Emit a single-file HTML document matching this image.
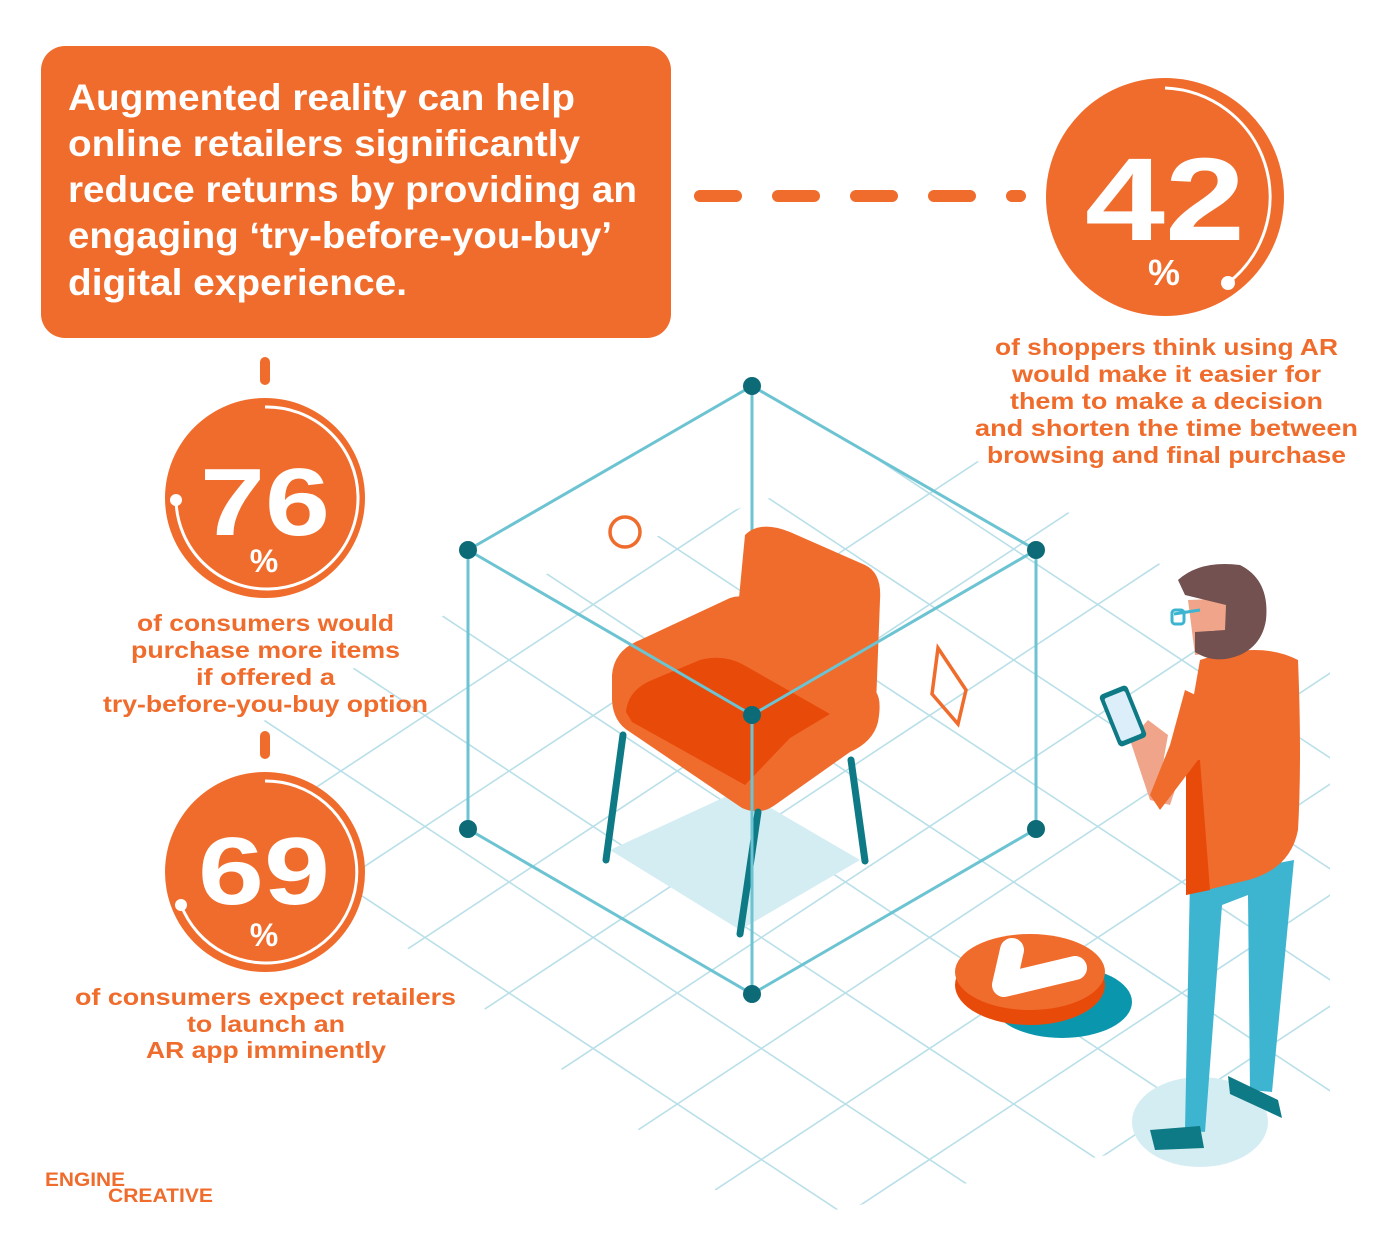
<!DOCTYPE html>
<html><head><meta charset="utf-8"><style>
html,body{margin:0;padding:0;background:#fff;width:1400px;height:1247px;overflow:hidden}
svg{display:block}
text{font-family:"Liberation Sans",Arial,sans-serif;font-weight:bold}
</style></head><body>
<svg width="1400" height="1247" viewBox="0 0 1400 1247" xmlns="http://www.w3.org/2000/svg">
<defs>
<clipPath id="g"><polygon points="940,440 1330,660 1330,1110 760,1225 180,770 470,600"/></clipPath>
</defs>
<g clip-path="url(#g)" fill="none" stroke="#b9dfe8" stroke-width="1.6">
<path d="M0 -453 L1400 471 M0 -342 L1400 582 M0 -231 L1400 693 M0 -120 L1400 804 M0 -9 L1400 915 M0 102 L1400 1026 M0 213 L1400 1137 M0 324 L1400 1248 M0 435 L1400 1359 M0 546 L1400 1470 M0 657 L1400 1581 M0 768 L1400 1692 M0 879 L1400 1803 M0 990 L1400 1914 M0 1101 L1400 2025 M0 1212 L1400 2136"/>
<path d="M0 441 L1400 -483 M0 552 L1400 -372 M0 663 L1400 -261 M0 774 L1400 -150 M0 885 L1400 -39 M0 996 L1400 72 M0 1107 L1400 183 M0 1218 L1400 294 M0 1329 L1400 405 M0 1440 L1400 516 M0 1551 L1400 627 M0 1662 L1400 738 M0 1773 L1400 849 M0 1884 L1400 960 M0 1995 L1400 1071 M0 2106 L1400 1182 M0 2217 L1400 1293"/>
</g>
<!-- cube -->
<polygon points="610,850 740,790 860,860 740,930" fill="#d3edf2"/>
<g stroke="#6cc3d2" stroke-width="3" fill="none">
<polyline points="468,550 752,386 1036,550 1036,829 752,994 468,829 468,550"/>
<line x1="752" y1="386" x2="752" y2="715"/>
</g>
<!-- chair -->
<path d="M745 535 Q760 520 790 532 L865 565 Q882 573 880 600 L876 705 L735 640 Z" fill="#f06c2c"/>
<path d="M612 675 Q614 650 640 640 L730 598 Q742 594 752 600 L876 692 Q882 700 878 722 Q873 742 850 752 L775 805 Q760 816 742 808 L630 732 Q613 722 612 700 Z" fill="#f06c2c"/>
<path d="M626 712 Q628 690 652 680 L700 660 Q722 654 742 664 L830 714 L790 738 L745 785 L632 722 Z" fill="#e84a0a"/>
<g stroke="#0d7a85" stroke-width="7" stroke-linecap="round">
<line x1="623" y1="735" x2="606" y2="860"/><line x1="758" y1="812" x2="740" y2="934"/><line x1="851" y1="760" x2="865" y2="861"/>
</g>
<g stroke="#6cc3d2" stroke-width="3"><line x1="752" y1="715" x2="752" y2="994"/><line x1="468" y1="550" x2="752" y2="715"/><line x1="1036" y1="550" x2="752" y2="715"/></g>
<g fill="#0d6b78">
<circle cx="752" cy="386" r="9"/><circle cx="468" cy="550" r="9"/><circle cx="1036" cy="550" r="9"/><circle cx="752" cy="715" r="9"/><circle cx="468" cy="829" r="9"/><circle cx="1036" cy="829" r="9"/><circle cx="752" cy="994" r="9"/>
</g>
<circle cx="625" cy="532" r="15" fill="none" stroke="#f06c2c" stroke-width="3.5"/>
<polygon points="938,648 966,690 958,724 932,694" fill="none" stroke="#f06c2c" stroke-width="3.5"/>
<!-- button -->
<ellipse cx="1062" cy="1002" rx="70" ry="36" fill="#0a97ad"/>
<ellipse cx="1030" cy="985" rx="75" ry="40" fill="#e84a0a"/>
<ellipse cx="1030" cy="972" rx="75" ry="38" fill="#f06c2c"/>
<path d="M1012 950 L1004 985 L1075 968" fill="none" stroke="#fff" stroke-width="24" stroke-linecap="round" stroke-linejoin="round"/>
<!-- man -->
<ellipse cx="1200" cy="1122" rx="68" ry="45" fill="#d3edf2"/>
<path d="M1190 880 L1185 1130 L1205 1132 L1222 905 L1248 895 L1250 1090 L1272 1092 L1294 860 Z" fill="#3db4d0"/>
<path d="M1150 1130 L1200 1126 L1204 1148 L1155 1150 Z" fill="#0d7a85"/>
<path d="M1228 1076 L1278 1100 L1282 1118 L1230 1094 Z" fill="#0d7a85"/>
<path d="M1200 660 Q1260 640 1298 660 Q1302 760 1298 830 Q1290 872 1240 882 L1186 895 L1186 740 Z" fill="#f06c2c"/>
<path d="M1186 760 L1200 760 L1210 890 L1186 895 Z" fill="#e84a0a"/>
<path d="M1130 740 L1148 720 L1168 735 L1160 780 L1175 790 L1170 805 L1150 800 Z" fill="#f0a58a"/>
<path d="M1185 690 L1206 700 L1198 760 L1160 810 L1150 795 L1170 745 Z" fill="#f06c2c"/>
<rect x="1108" y="688" width="30" height="56" rx="4" transform="rotate(-22 1123 716)" fill="#0d7a85"/>
<rect x="1112" y="693" width="22" height="46" rx="2" transform="rotate(-22 1123 716)" fill="#dbeefa"/>
<path d="M1188 600 L1240 598 L1245 650 L1195 655 Z" fill="#f0a58a"/>
<path d="M1178 580 Q1200 560 1240 565 Q1270 580 1266 620 Q1262 645 1240 655 Q1215 665 1195 652 L1195 632 L1225 630 L1226 605 L1185 595 Z" fill="#735151"/>
<circle cx="1212" cy="623" r="8" fill="#f0a58a"/>
<path d="M1174 614 L1200 610" stroke="#3db4d0" stroke-width="3"/>
<rect x="1172" y="610" width="12" height="14" rx="3" fill="none" stroke="#3db4d0" stroke-width="3"/>
<!-- headline box -->
<rect x="41" y="46" width="630" height="292" rx="24" fill="#f06c2c"/>
<g fill="#fff" font-size="37">
<text x="68" y="110" textLength="507" lengthAdjust="spacingAndGlyphs">Augmented reality can help</text>
<text x="68" y="156" textLength="512" lengthAdjust="spacingAndGlyphs">online retailers significantly</text>
<text x="68" y="202" textLength="569" lengthAdjust="spacingAndGlyphs">reduce returns by providing an</text>
<text x="68" y="248" textLength="544" lengthAdjust="spacingAndGlyphs">engaging ‘try-before-you-buy’</text>
<text x="68" y="295" textLength="339" lengthAdjust="spacingAndGlyphs">digital experience.</text>
</g>
<line x1="700" y1="196" x2="1020" y2="196" stroke="#f06c2c" stroke-width="12" stroke-linecap="round" stroke-dasharray="36,42"/>
<!-- 42 -->
<circle cx="1165" cy="197" r="119" fill="#f06c2c"/>
<path d="M1165 88 A109 109 0 0 1 1228 283" fill="none" stroke="#fff" stroke-width="3"/>
<circle cx="1228" cy="283" r="7" fill="#fff"/>
<text x="1085" y="240" font-size="118" fill="#fff" textLength="160" lengthAdjust="spacingAndGlyphs">42</text>
<text x="1164" y="285" font-size="36" fill="#fff" text-anchor="middle">%</text>
<g fill="#f06c2c" font-size="23">
<text x="995" y="355" textLength="343" lengthAdjust="spacingAndGlyphs">of shoppers think using AR</text>
<text x="1012" y="382" textLength="309" lengthAdjust="spacingAndGlyphs">would make it easier for</text>
<text x="1010" y="409" textLength="313" lengthAdjust="spacingAndGlyphs">them to make a decision</text>
<text x="975" y="436" textLength="383" lengthAdjust="spacingAndGlyphs">and shorten the time between</text>
<text x="987" y="463" textLength="359" lengthAdjust="spacingAndGlyphs">browsing and final purchase</text>
</g>
<!-- 76 -->
<line x1="265" y1="362" x2="265" y2="380" stroke="#f06c2c" stroke-width="10" stroke-linecap="round"/>
<circle cx="265" cy="498" r="100" fill="#f06c2c"/>
<path d="M265 407 A91 91 0 1 1 176 500" fill="none" stroke="#fff" stroke-width="3"/>
<circle cx="176" cy="500" r="6" fill="#fff"/>
<text x="200" y="535" font-size="96" fill="#fff" textLength="130" lengthAdjust="spacingAndGlyphs">76</text>
<text x="264" y="572" font-size="32" fill="#fff" text-anchor="middle">%</text>
<g fill="#f06c2c" font-size="23">
<text x="137" y="631" textLength="257" lengthAdjust="spacingAndGlyphs">of consumers would</text>
<text x="131" y="658" textLength="269" lengthAdjust="spacingAndGlyphs">purchase more items</text>
<text x="196" y="685" textLength="139" lengthAdjust="spacingAndGlyphs">if offered a</text>
<text x="103" y="712" textLength="325" lengthAdjust="spacingAndGlyphs">try-before-you-buy option</text>
</g>
<!-- 69 -->
<line x1="265" y1="736" x2="265" y2="754" stroke="#f06c2c" stroke-width="10" stroke-linecap="round"/>
<circle cx="265" cy="872" r="100" fill="#f06c2c"/>
<path d="M265 781 A91 91 0 1 1 181 905" fill="none" stroke="#fff" stroke-width="3"/>
<circle cx="181" cy="905" r="6" fill="#fff"/>
<text x="198" y="904" font-size="96" fill="#fff" textLength="132" lengthAdjust="spacingAndGlyphs">69</text>
<text x="264" y="946" font-size="32" fill="#fff" text-anchor="middle">%</text>
<g fill="#f06c2c" font-size="23">
<text x="75" y="1005" textLength="381" lengthAdjust="spacingAndGlyphs">of consumers expect retailers</text>
<text x="187" y="1032" textLength="158" lengthAdjust="spacingAndGlyphs">to launch an</text>
<text x="146" y="1058" textLength="240" lengthAdjust="spacingAndGlyphs">AR app imminently</text>
</g>
<g fill="#f06c2c" font-size="19">
<text x="45" y="1186" textLength="80" lengthAdjust="spacingAndGlyphs">ENGINE</text>
<text x="108" y="1202" textLength="105" lengthAdjust="spacingAndGlyphs">CREATIVE</text>
</g>
</svg>
</body></html>
